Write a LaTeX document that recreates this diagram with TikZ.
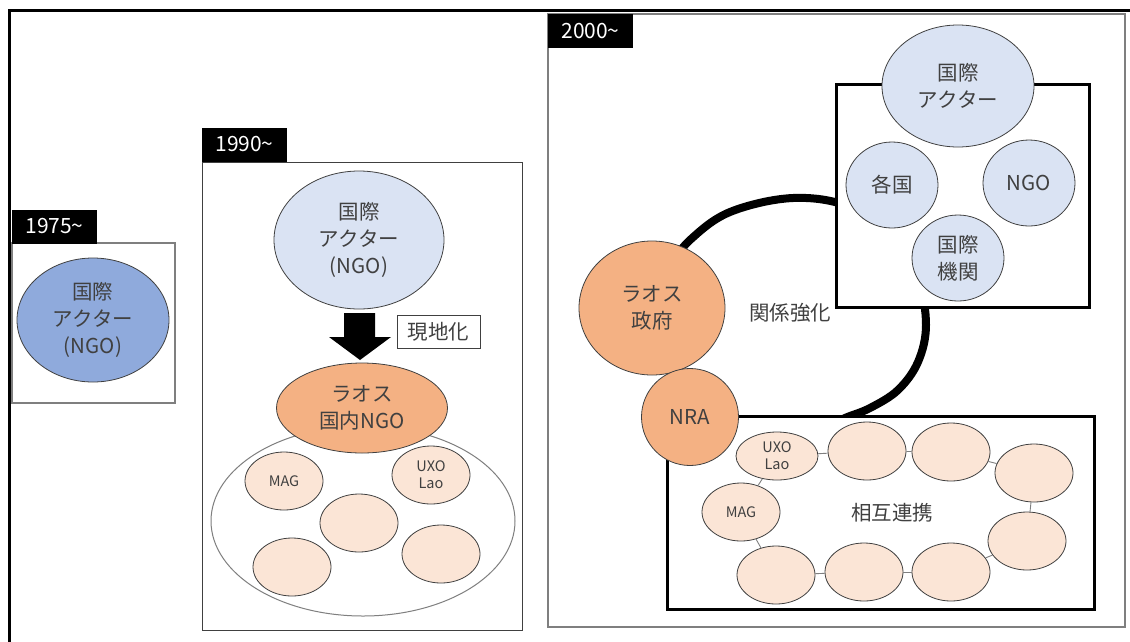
\documentclass[tikz,border=0pt]{standalone}
\usepackage{fontspec}
\setmainfont{Noto Sans CJK JP}
\usetikzlibrary{shapes.geometric}
\definecolor{txt}{HTML}{404040}
\definecolor{blueA}{HTML}{8FAADC}
\definecolor{blueL}{HTML}{DAE3F3}
\definecolor{orangeA}{HTML}{F4B183}
\definecolor{orangeL}{HTML}{FBE5D6}
\definecolor{edgec}{HTML}{404040}
\definecolor{panelc}{HTML}{7F7F7F}
\begin{document}
\begin{tikzpicture}[x=1pt,y=-1pt,
  ell/.style={ellipse, draw=edgec, line width=0.8pt, inner sep=0pt, align=center, text=txt, font=\fontsize{20.5}{27}\selectfont},
  sm/.style={ell, fill=orangeL, minimum width=78pt, minimum height=58pt, font=\fontsize{14.5}{17}\selectfont},
  bl/.style={ell, fill=blueL, minimum width=92pt, minimum height=86pt},
  yearlbl/.style={fill=black, text=white, minimum width=85pt, minimum height=34pt, inner sep=0pt, font=\fontsize{21}{24}\selectfont},
  panel/.style={draw=panelc, line width=1.2pt, fill=white},
  thickbox/.style={draw=black, line width=3pt, fill=white},
  conn/.style={draw=panelc, line width=0.9pt},
  plain/.style={text=txt, font=\fontsize{20.5}{27}\selectfont, inner sep=0pt}
]
\useasboundingbox (0,0) rectangle (1130,641);
\fill[white] (0,0) rectangle (1130,641);
\clip (0,0) rectangle (1130,641);
% outer frame
\draw[line width=3pt] (9,660) -- (9,10) -- (1150,10);

% ---------- 1975 ----------
\draw[panel] (12,243) rectangle (175,403);
\node[yearlbl] (y1975) at (54.5,226.5) {1975\textasciitilde};
\node[ell, fill=blueA, minimum width=152pt, minimum height=124pt] (ia1975) at (93,320) {国際\\アクター\\(NGO)};

% ---------- 1990 ----------
\draw[panel, draw=edgec, line width=1pt] (202,162) rectangle (522,630);
\node[yearlbl] (y1990) at (244.5,144.5) {1990\textasciitilde};
\node[ell, fill=blueL, minimum width=170pt, minimum height=138pt] (ia1990) at (359,240) {国際\\アクター\\(NGO)};
\fill[black] (344,313) -- (375,313) -- (375,337) -- (391,337) -- (360,360) -- (329,337) -- (344,337) -- cycle;
\node[draw=edgec, line width=0.8pt, minimum width=83pt, minimum height=33pt, inner sep=0pt, text=txt, font=\fontsize{20.5}{24}\selectfont] (loc) at (438.5,331.5) {現地化};
\node[ellipse, draw=panelc, line width=1pt, fill=white, minimum width=304pt, minimum height=190pt, inner sep=0pt] (group1990) at (363,521) {};
\node[ell, fill=orangeA, minimum width=171pt, minimum height=90pt] (lngo) at (362,408) {ラオス\\国内NGO};
\node[sm] (mag1) at (284,481) {MAG};
\node[sm] (uxo1) at (431,475) {UXO\\Lao};
\node[sm] (m1) at (359,523) {};
\node[sm] (bl1) at (292,567) {};
\node[sm] (br1) at (441,554) {};

% ---------- 2000 ----------
\draw[panel] (548,14) rectangle (1125,627);
\node[yearlbl] (y2000) at (590.5,31) {2000\textasciitilde};
\draw[line width=8pt] plot[smooth, tension=0.6] coordinates {(668,268) (690,240) (730,212) (793,198) (850,207) (893,240) (918,280) (926,325) (918,362) (898,390) (870,408) (845,418) (825,428)};
\draw[thickbox] (836,84) rectangle (1089,307);
\draw[thickbox] (667,416) rectangle (1094,609);
\node[ell, fill=blueL, minimum width=152pt, minimum height=122pt] (ia2000) at (958,86) {国際\\アクター};
\node[bl] (kakkoku) at (892,185) {各国};
\node[bl] (ngo) at (1029,183) {NGO};
\node[bl] (kikan) at (958,258) {国際\\機関};
\node[plain] (kankei) at (790,313) {関係強化};
\node[ell, fill=orangeA, minimum width=146pt, minimum height=134pt] (gov) at (652,308) {ラオス\\政府};
\node[ell, fill=orangeA, minimum width=97pt, minimum height=97pt] (nra) at (690,417) {NRA};
% partner ring
\node[sm, minimum width=82pt, minimum height=48pt] (uxo2) at (777,456) {UXO\\Lao};
\node[sm] (e2) at (867,451) {};
\node[sm] (e3) at (951,452) {};
\node[sm] (e4) at (1034,473) {};
\node[sm] (e5) at (1027,541) {};
\node[sm] (e6) at (951,572) {};
\node[sm] (e7) at (864,572) {};
\node[sm] (e8) at (776,575) {};
\node[sm] (mag2) at (741,512) {MAG};
\draw[conn] (uxo2) -- (e2);
\draw[conn] (e2) -- (e3);
\draw[conn] (e3) -- (e4);
\draw[conn] (e4) -- (e5);
\draw[conn] (e5) -- (e6);
\draw[conn] (e6) -- (e7);
\draw[conn] (e7) -- (e8);
\draw[conn] (e8) -- (mag2);
\draw[conn] (mag2) -- (uxo2);
\node[plain] (sogo) at (892,513) {相互連携};
\end{tikzpicture}
\end{document}
